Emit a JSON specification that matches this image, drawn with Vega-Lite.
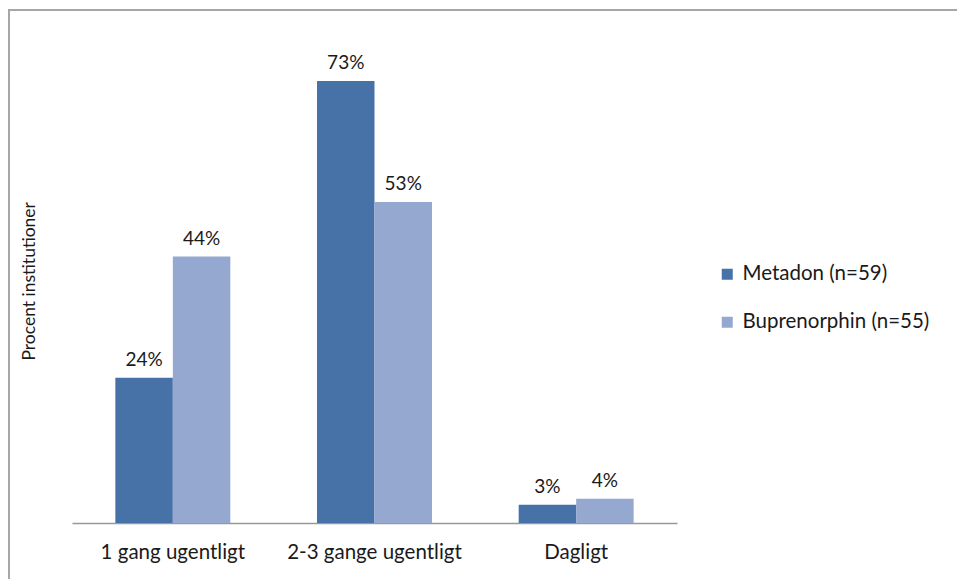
{
  "$schema": "https://vega.github.io/schema/vega-lite/v6.json",
  "width": 948,
  "height": 569,
  "padding": {"left": 9, "top": 10, "right": 0, "bottom": 0},
  "autosize": {"type": "none"},
  "background": "white",
  "config": {
    "view": {"stroke": "#a6a6a6", "strokeWidth": 2, "strokeDash": [948, 1517, 569]},
    "font": "Lato"
  },
  "data": {
    "values": [
      {"category": "1 gang ugentligt", "series": "Metadon (n=59)", "value": 0.24},
      {"category": "1 gang ugentligt", "series": "Buprenorphin (n=55)", "value": 0.44},
      {"category": "2-3 gange ugentligt", "series": "Metadon (n=59)", "value": 0.73},
      {"category": "2-3 gange ugentligt", "series": "Buprenorphin (n=55)", "value": 0.53},
      {"category": "Dagligt", "series": "Metadon (n=59)", "value": 0.03},
      {"category": "Dagligt", "series": "Buprenorphin (n=55)", "value": 0.04}
    ]
  },
  "encoding": {
    "x": {
      "field": "category",
      "type": "nominal",
      "sort": ["1 gang ugentligt", "2-3 gange ugentligt", "Dagligt"],
      "scale": {"range": [63, 668], "paddingInner": 0, "paddingOuter": 0},
      "axis": {
        "title": null,
        "orient": "bottom",
        "offset": -56,
        "domainColor": "#999999",
        "domainWidth": 1.5,
        "ticks": false,
        "grid": false,
        "labelAngle": 0,
        "labelFontSize": 20.5,
        "labelColor": "#1a1a1a",
        "labelPadding": 19,
        "labelLimit": 0
      }
    },
    "xOffset": {
      "field": "series",
      "type": "nominal",
      "sort": ["Metadon (n=59)", "Buprenorphin (n=55)"],
      "scale": {"paddingInner": 0, "paddingOuter": 0.754}
    },
    "y": {
      "field": "value",
      "type": "quantitative",
      "scale": {"domain": [0, 0.8], "range": [513, 28.6]},
      "axis": {
        "title": "Procent institutioner",
        "orient": "left",
        "offset": -29,
        "domain": false,
        "ticks": false,
        "labels": false,
        "grid": false,
        "titlePadding": 0,
        "titleFontSize": 17.5,
        "titleFontWeight": "normal",
        "titleColor": "#1a1a1a"
      }
    }
  },
  "layer": [
    {
      "mark": {"type": "bar"},
      "encoding": {
        "color": {
          "field": "series",
          "type": "nominal",
          "sort": ["Metadon (n=59)", "Buprenorphin (n=55)"],
          "scale": {"domain": ["Metadon (n=59)", "Buprenorphin (n=55)"], "range": ["#4672A8", "#95A9D0"]},
          "legend": {
            "orient": "none",
            "legendX": 708,
            "legendY": 254,
            "title": null,
            "symbolType": "square",
            "symbolSize": 121,
            "symbolStrokeWidth": 0,
            "labelFontSize": 20.5,
            "labelColor": "#1a1a1a",
            "labelOffset": 5,
            "labelLimit": 0,
            "rowPadding": 27
          }
        }
      }
    },
    {
      "mark": {"type": "text", "dy": -12, "baseline": "alphabetic", "fontSize": 19, "color": "#1a1a1a"},
      "encoding": {
        "text": {"field": "value", "type": "quantitative", "format": ".0%"}
      }
    }
  ]
}
